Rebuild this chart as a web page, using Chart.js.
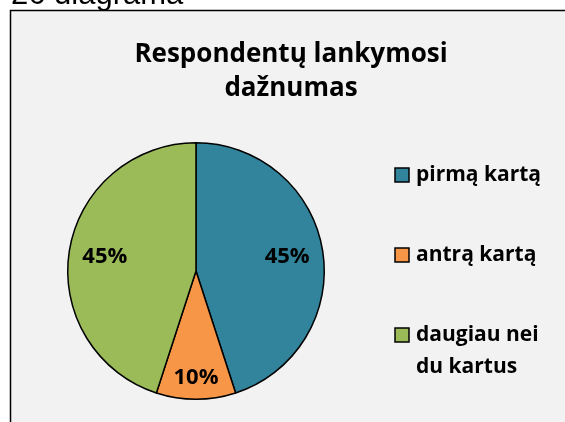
<!DOCTYPE html>
<html>
<head>
<meta charset="utf-8">
<script src="https://cdn.jsdelivr.net/npm/chart.js@4.4.0/dist/chart.umd.min.js"></script>
<style>
  html, body { margin: 0; padding: 0; background: #fff; }
  #wrap { width: 565px; height: 422px; }
</style>
</head>
<body>
<div id="wrap"><canvas id="pie" width="565" height="422"></canvas></div>
<script>
// chart data
const categories = ['pirmą kartą', 'antrą kartą', 'daugiau nei du kartus'];
const legendLines = [['pirmą kartą'], ['antrą kartą'], ['daugiau nei', 'du kartus']];
const shares = [45, 10, 45];
const sliceColors = ['#31849b', '#f79646', '#9bbb59'];
const chartTitle = ['Respondentų lankymosi', 'dažnumas'];
const caption = '26 diagrama';

const FONT = '"Open Sans", Lato, sans-serif';

// background, frame, caption, title, legend and percentage labels
const decorPlugin = {
  id: 'decor',
  beforeDraw(chart) {
    const ctx = chart.ctx;
    ctx.save();
    ctx.fillStyle = '#fff';
    ctx.fillRect(0, 0, chart.width, chart.height);
    ctx.fillStyle = '#f2f2f2';
    ctx.fillRect(10, 10, chart.width, chart.height);
    ctx.strokeStyle = '#000';
    ctx.lineWidth = 1.5;
    ctx.beginPath();
    ctx.moveTo(10.5, chart.height + 5);
    ctx.lineTo(10.5, 10.5);
    ctx.lineTo(chart.width + 5, 10.5);
    ctx.stroke();

    // caption, cut off by the top edge like in the source
    ctx.fillStyle = '#000';
    ctx.font = '31px "Liberation Sans", Arial, sans-serif';
    ctx.textBaseline = 'alphabetic';
    ctx.textAlign = 'left';
    ctx.fillText(caption, 11, 4);

    // title
    ctx.font = 'bold 26px ' + FONT;
    ctx.textAlign = 'center';
    chartTitle.forEach((line, i) => ctx.fillText(line, 291, 62 + i * 34));
    ctx.restore();
  },
  afterDraw(chart) {
    const ctx = chart.ctx;
    ctx.save();
    // legend
    const rows = [175, 255, 335];
    ctx.font = 'bold 21px ' + FONT;
    ctx.textBaseline = 'middle';
    ctx.textAlign = 'left';
    categories.forEach((c, i) => {
      const y = rows[i];
      ctx.fillStyle = sliceColors[i];
      ctx.fillRect(395, y - 7, 14, 14);
      ctx.strokeStyle = '#000';
      ctx.lineWidth = 1.5;
      ctx.strokeRect(395, y - 7, 14, 14);
      ctx.fillStyle = '#000';
      legendLines[i].forEach((t, j) => ctx.fillText(t, 416, y + j * 32));
    });

    // percentage labels
    const meta = chart.getDatasetMeta(0);
    const spread = [0.72, 0.83, 0.72];
    ctx.font = 'bold 22px ' + FONT;
    ctx.textAlign = 'center';
    meta.data.forEach((arc, i) => {
      const p = arc.getProps(['x', 'y', 'startAngle', 'endAngle', 'outerRadius'], true);
      const mid = (p.startAngle + p.endAngle) / 2;
      const r = p.outerRadius * spread[i];
      ctx.fillText(shares[i] + '%', p.x + Math.cos(mid) * r, p.y + Math.sin(mid) * r);
    });
    ctx.restore();
  }
};

new Chart(document.getElementById('pie'), {
  type: 'pie',
  data: {
    labels: categories,
    datasets: [{
      data: shares,
      backgroundColor: sliceColors,
      borderColor: '#000',
      borderWidth: 1.5
    }]
  },
  options: {
    responsive: false,
    animation: false,
    layout: { padding: { left: 67, right: 240, top: 142, bottom: 22 } },
    plugins: {
      legend: { display: false },
      title: { display: false },
      tooltip: { enabled: false }
    }
  },
  plugins: [decorPlugin]
});
</script>
</body>
</html>
